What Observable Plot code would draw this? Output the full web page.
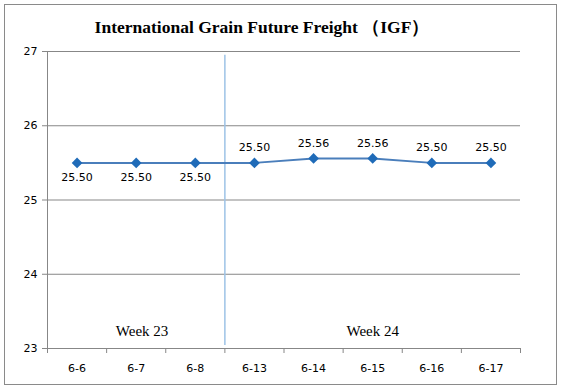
<!DOCTYPE html>
<html>
<head>
<meta charset="utf-8">
<script src="https://cdn.jsdelivr.net/npm/d3@7"></script>
<script src="https://cdn.jsdelivr.net/npm/@observablehq/plot@0.6"></script>
<style>
  html, body { margin: 0; padding: 0; background: #fff; }
  #wrap { position: relative; width: 562px; height: 389px; }
  #wrap svg { display: block; }
  #box { position: absolute; left: 4px; top: 4px; width: 551px; height: 379px; border: 1px solid #8a8a8a; pointer-events: none; }
</style>
</head>
<body>
<div id="wrap"><div id="box"></div></div>
<script>
const titleText = "International Grain Future Freight （IGF）";
const categories = ["6-6", "6-7", "6-8", "6-13", "6-14", "6-15", "6-16", "6-17"];
const values = [25.50, 25.50, 25.50, 25.50, 25.56, 25.56, 25.50, 25.50];
const labelBelow = [true, true, true, false, false, false, false, false];
const yTicks = [23, 24, 25, 26, 27];
const weekLabels = ["Week 23", "Week 24"];
const weekCenters = [1.1, 5.0];
const weekDivider = 2.5;

const data = categories.map((c, i) => ({i, c, v: values[i], below: labelBelow[i]}));
const boundaries = d3.range(categories.length + 1).map(k => k - 0.5);
const weeks = weekLabels.map((t, k) => ({t, x: weekCenters[k]}));

const gray = "#878787";
const font = "DejaVu Sans, Verdana, sans-serif";

const chart = Plot.plot({
  width: 562,
  height: 389,
  marginLeft: 47,
  marginRight: 42,
  marginTop: 51,
  marginBottom: 41,
  style: {fontFamily: font, fontSize: "11px", color: "#000", background: "transparent"},
  x: {type: "linear", domain: [-0.5, categories.length - 0.5], label: null},
  y: {domain: [23, 27], label: null},
  marks: [
    Plot.ruleY(yTicks, {stroke: gray, strokeWidth: 1}),
    Plot.ruleX([-0.5], {y1: 23, y2: 27, stroke: gray, strokeWidth: 1}),
    Plot.axisY(yTicks, {tickSize: 5, tickPadding: 5, stroke: gray, tickFormat: d => d, fill: "#000", label: null}),
    Plot.axisX(boundaries, {tickSize: 5, tickFormat: () => "", stroke: gray, label: null}),
    Plot.axisX(d3.range(categories.length), {tickSize: 0, tickPadding: 16, tickFormat: i => categories[i], label: null, fill: "#000"}),
    Plot.ruleX([weekDivider], {y1: 23.04, y2: 26.95, stroke: "#9dc3e6", strokeWidth: 1.5}),
    Plot.text(weeks, {x: "x", y: 23.23, text: "t", fontFamily: "Times New Roman, Liberation Serif, serif", fontSize: 15, fill: "#000"}),
    Plot.line(data, {x: "i", y: "v", stroke: "#4a7ebb", strokeWidth: 2}),
    Plot.dot(data, {x: "i", y: "v", symbol: "diamond2", r: 4.8, fill: "#1f6bb8", stroke: "none"}),
    Plot.text(data.filter(d => d.below), {x: "i", y: "v", text: d => d.v.toFixed(2), dy: 15, fontSize: 11, fill: "#000"}),
    Plot.text(data.filter(d => !d.below), {x: "i", y: "v", text: d => d.v.toFixed(2), dy: -15, fontSize: 11, fill: "#000"}),
    Plot.text([titleText], {frameAnchor: "top", lineAnchor: "middle", text: d => d, dy: -24, dx: -22, fontFamily: "Times New Roman, Liberation Serif, serif", fontWeight: "bold", fontSize: 17.5, fill: "#000"})
  ]
});
document.getElementById("wrap").prepend(chart);
</script>
</body>
</html>
